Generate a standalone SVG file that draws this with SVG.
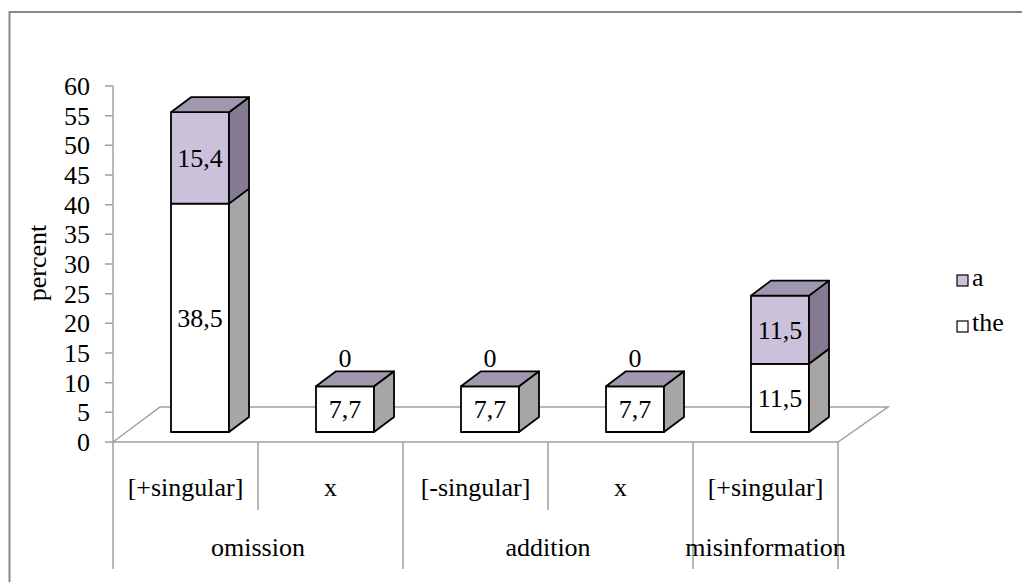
<svg xmlns="http://www.w3.org/2000/svg" width="1022" height="582" viewBox="0 0 1022 582">
<style>
text{font-family:"Liberation Serif","Times New Roman",Times,serif;font-size:26px;fill:#000}
.ax{stroke:#A0A0A0;stroke-width:1.5;fill:none}
.fw{fill:#FFFFFF;stroke:#000;stroke-width:1.8;stroke-linejoin:round}
.fp{fill:#CCC1DA;stroke:#000;stroke-width:1.8;stroke-linejoin:round}
.sg{fill:#A6A6A6;stroke:#000;stroke-width:1.8;stroke-linejoin:round}
.sp{fill:#847B92;stroke:#000;stroke-width:1.8;stroke-linejoin:round}
.tp{fill:#A098AE;stroke:#000;stroke-width:1.8;stroke-linejoin:round}
.m{text-anchor:middle}
.r{text-anchor:end}
</style>
<rect x="0" y="0" width="1022" height="582" fill="#FFFFFF"/>
<path d="M9.5,600 V12 H1030" fill="none" stroke="#888888" stroke-width="2"/>

<g id="axes">
<path class="ax" d="M113,86 V442"/>
<path class="ax" d="M105,86H113M105,115.7H113M105,145.3H113M105,175H113M105,204.7H113M105,234.3H113M105,264H113M105,293.7H113M105,323.3H113M105,353H113M105,382.7H113M105,412.3H113M105,442H113"/>
<g class="r">
<text x="90" y="94.8">60</text><text x="90" y="124.5">55</text><text x="90" y="154.1">50</text><text x="90" y="183.8">45</text><text x="90" y="213.5">40</text><text x="90" y="243.1">35</text><text x="90" y="272.8">30</text><text x="90" y="302.5">25</text><text x="90" y="332.1">20</text><text x="90" y="361.8">15</text><text x="90" y="391.5">10</text><text x="90" y="421.1">5</text><text x="90" y="450.8">0</text>
</g>
<text class="m" transform="translate(46,263) rotate(-90)">percent</text>
</g>

<g id="floor">
<path class="ax" d="M113,442 L160,407 H888 L838,442 Z"/>
</g>

<g id="category-axis">
<path class="ax" d="M113,442 V569 M258,442 V510 M403,442 V569 M548,442 V510 M693,442 V569 M838,442 V569"/>
<text class="m" x="185.5" y="496">[+singular]</text>
<text class="m" x="330.5" y="496">x</text>
<text class="m" x="475.5" y="496">[-singular]</text>
<text class="m" x="620.5" y="496">x</text>
<text class="m" x="765.5" y="496">[+singular]</text>
<text class="m" x="258" y="556">omission</text>
<text class="m" x="548" y="556">addition</text>
<text class="m" x="765.5" y="556">misinformation</text>
</g>

<g id="bar1">
<rect class="fw" x="171" y="203.6" width="58" height="228.4"/>
<polygon class="sg" points="229,432 249,417 249,188.6 229,203.6"/>
<rect class="fp" x="171" y="112.2" width="58" height="91.4"/>
<polygon class="sp" points="229,203.6 249,188.6 249,97.2 229,112.2"/>
<polygon class="tp" points="171,112.2 229,112.2 249,97.2 191,97.2"/>
<text class="m" x="200" y="166.5">15,4</text>
<text class="m" x="200" y="326.5">38,5</text>
</g>

<g id="bar2">
<rect class="fw" x="316" y="386.3" width="58" height="45.7"/>
<polygon class="sg" points="374,432 394,417 394,371.3 374,386.3"/>
<polygon class="tp" points="316,386.3 374,386.3 394,371.3 336,371.3"/>
<text class="m" x="345" y="418">7,7</text>
<text class="m" x="345" y="367">0</text>
</g>

<g id="bar3">
<rect class="fw" x="461" y="386.3" width="58" height="45.7"/>
<polygon class="sg" points="519,432 539,417 539,371.3 519,386.3"/>
<polygon class="tp" points="461,386.3 519,386.3 539,371.3 481,371.3"/>
<text class="m" x="490" y="418">7,7</text>
<text class="m" x="490" y="367">0</text>
</g>

<g id="bar4">
<rect class="fw" x="606" y="386.3" width="58" height="45.7"/>
<polygon class="sg" points="664,432 684,417 684,371.3 664,386.3"/>
<polygon class="tp" points="606,386.3 664,386.3 684,371.3 626,371.3"/>
<text class="m" x="635" y="418">7,7</text>
<text class="m" x="635" y="367">0</text>
</g>

<g id="bar5">
<rect class="fw" x="751" y="363.8" width="58" height="68.2"/>
<polygon class="sg" points="809,432 829,417 829,348.8 809,363.8"/>
<rect class="fp" x="751" y="295.6" width="58" height="68.2"/>
<polygon class="sp" points="809,363.8 829,348.8 829,280.6 809,295.6"/>
<polygon class="tp" points="751,295.6 809,295.6 829,280.6 771,280.6"/>
<text class="m" x="780" y="338.5">11,5</text>
<text class="m" x="780" y="407">11,5</text>
</g>

<g id="legend">
<rect x="957" y="275" width="11" height="11" fill="#CCC1DA" stroke="#000" stroke-width="1.2"/>
<text x="972" y="286">a</text>
<rect x="957" y="321" width="11" height="11" fill="#FFFFFF" stroke="#000" stroke-width="1.2"/>
<text x="972" y="331">the</text>
</g>
</svg>
